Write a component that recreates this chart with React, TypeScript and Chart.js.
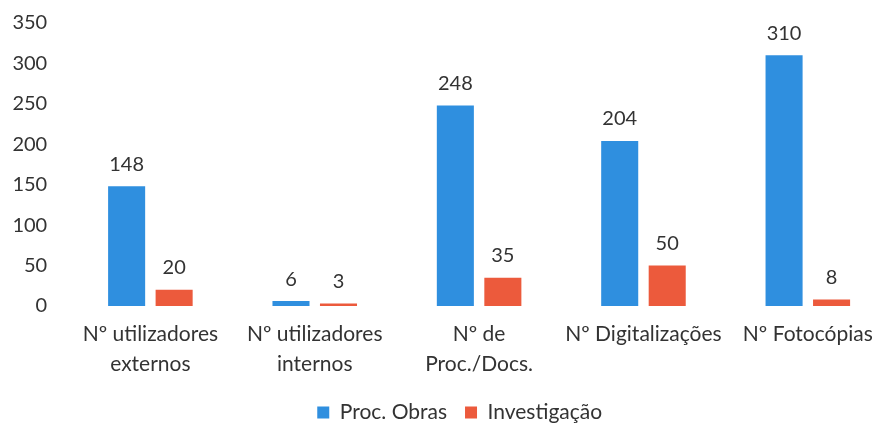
import React, { useEffect, useRef } from "react";
import { Chart, registerables } from "chart.js";

Chart.register(...registerables);

const categories: string[][] = [
  ["Nº utilizadores", "externos"],
  ["Nº utilizadores", "internos"],
  ["Nº de", "Proc./Docs."],
  ["Nº Digitalizações"],
  ["Nº Fotocópias"],
];
const procObras = [148, 6, 248, 204, 310];
const investigacao = [20, 3, 35, 50, 8];
const seriesNames = ["Proc. Obras", "Investigação"];
const yTicks = [0, 50, 100, 150, 200, 250, 300, 350];

const FONT = "Lato";
const TEXT = "#333333";

const valueLabels = {
  id: "valueLabels",
  afterDatasetsDraw(chart: any) {
    const ctx = chart.ctx;
    ctx.save();
    ctx.font = `20px ${FONT}`;
    ctx.fillStyle = TEXT;
    ctx.textAlign = "center";
    ctx.textBaseline = "bottom";
    chart.data.datasets.forEach((ds: any, i: number) => {
      const meta = chart.getDatasetMeta(i);
      meta.data.forEach((bar: any, j: number) => {
        ctx.fillText(String(ds.data[j]), bar.x, bar.y - 12);
      });
    });
    ctx.restore();
  },
};

const legendShift = {
  id: "legendShift",
  afterLayout(chart: any) {
    const lg = chart.legend;
    if (lg) {
      lg.left += 14;
      lg.right += 14;
    }
  },
};

export default function App() {
  const ref = useRef<HTMLCanvasElement>(null);
  useEffect(() => {
    document.body.style.margin = "0";
    document.body.style.overflow = "hidden";
    const chart = new Chart(ref.current!, {
      type: "bar",
      data: {
        labels: categories,
        datasets: [
          {
            label: seriesNames[0],
            data: procObras,
            backgroundColor: "#2f8fdf",
            categoryPercentage: 0.578,
            barPercentage: 0.78,
          },
          {
            label: seriesNames[1],
            data: investigacao,
            backgroundColor: "#ec5a3c",
            categoryPercentage: 0.578,
            barPercentage: 0.78,
          },
        ],
      },
      options: {
        animation: false,
        responsive: false,
        maintainAspectRatio: false,
        layout: { padding: { top: 0, left: 1.4, right: 10, bottom: -7 } },
        plugins: {
          tooltip: { enabled: false },
          legend: {
            position: "bottom",
            labels: {
              boxWidth: 12,
              boxHeight: 12,
              padding: 18,
              color: TEXT,
              font: { family: FONT, size: 21 },
            },
          },
        },
        scales: {
          x: {
            grid: { display: false },
            border: { display: false },
            ticks: {
              color: TEXT,
              font: { family: FONT, size: 21, lineHeight: 1.43 },
              maxRotation: 0,
              autoSkip: false,
              padding: 5,
            },
          },
          y: {
            min: 0,
            max: 350,
            grid: { display: false, tickLength: 10 },
            border: { display: false },
            afterBuildTicks: (axis: any) => {
              axis.ticks = yTicks.map((v) => ({ value: v }));
            },
            ticks: {
              color: TEXT,
              font: { family: FONT, size: 20 },
              padding: 11,
            },
          },
        },
      },
      plugins: [valueLabels, legendShift],
    });
    return () => chart.destroy();
  }, []);
  return (
    <div style={{ width: 900, height: 426 }}>
      <canvas ref={ref} width={900} height={426} style={{ display: "block" }} />
    </div>
  );
}
